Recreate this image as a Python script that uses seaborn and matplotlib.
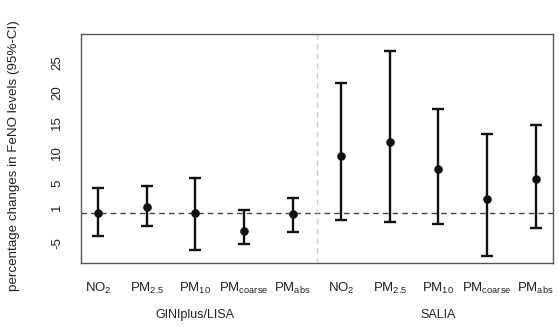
import matplotlib
matplotlib.use("Agg")
import matplotlib.pyplot as plt
import matplotlib.transforms as mtransforms
import seaborn as sns
import pandas as pd
import numpy as np

# Data
pollutants = ["$\\mathregular{NO_2}$", "$\\mathregular{PM_{2.5}}$", "$\\mathregular{PM_{10}}$",
              "$\\mathregular{PM_{coarse}}$", "$\\mathregular{PM_{abs}}$"]
studies = ["GINIplus/LISA", "SALIA"]
est_gini = [0.0, 0.95, 0.0, -3.0, -0.1]
low_gini = [-3.8, -2.2, -6.2, -5.2, -3.2]
high_gini = [4.1, 4.5, 5.8, 0.55, 2.45]
est_salia = [9.55, 11.9, 7.3, 2.4, 5.6]
low_salia = [-1.2, -1.4, -1.8, -7.2, -2.5]
high_salia = [21.7, 27.05, 17.3, 13.1, 14.7]
yticks = [-5, 1, 5, 10, 15, 20, 25]

df = pd.DataFrame({
    "pos": np.arange(1, 11),
    "label": pollutants * 2,
    "study": [studies[0]] * 5 + [studies[1]] * 5,
    "est": est_gini + est_salia,
    "low": low_gini + low_salia,
    "high": high_gini + high_salia,
})

sns.set_style("white")
plt.rcParams["font.family"] = ["Liberation Sans", "DejaVu Sans"]
plt.rcParams["mathtext.fontset"] = "custom"
plt.rcParams["mathtext.rm"] = "Liberation Sans"

fig = plt.figure(figsize=(5.59, 3.27), dpi=100)
ax = fig.add_axes([80.7 / 559, 1 - 263 / 327, (553 - 80.7) / 559, (263 - 34) / 327])

# reference lines
ax.axhline(0, color="#444444", lw=1.0, ls=(0, (4, 3)), zorder=1)
ax.axvline(5.5, color="#cccccc", lw=1.0, ls=(0, (4, 3)), zorder=1)

# error bars
ax.errorbar(df["pos"], df["est"],
            yerr=[df["est"] - df["low"], df["high"] - df["est"]],
            fmt="none", ecolor="#111111", elinewidth=1.7, capsize=4.5,
            capthick=1.7, zorder=2)
sns.scatterplot(data=df, x="pos", y="est", color="#111111", s=38,
                edgecolor="#111111", linewidth=0, ax=ax, zorder=3, legend=False)

ax.set_xlim(0.64, 10.36)
ax.set_ylim(-8.3, 29.8)
ax.set_xticks(df["pos"])
ax.set_xticklabels(df["label"], fontsize=9.5, color="#222222")
ax.set_yticks(yticks)
ax.set_yticklabels([str(t) for t in yticks], fontsize=9.5, rotation=90,
                   va="center", color="#222222")
ax.tick_params(axis="x", direction="out", length=5, width=1, color="#444444", pad=8)
ax.tick_params(axis="y", direction="out", length=6, width=1, color="#444444", pad=6.5)
ax.set_xlabel("")
ax.set_ylabel("percentage changes in FeNO levels (95%-CI)", fontsize=9.6, color="#222222")
ax.yaxis.set_label_coords(-0.128, 0.47)

for sp in ax.spines.values():
    sp.set_visible(True)
    sp.set_color("#555555")
    sp.set_linewidth(1.0)

trans = mtransforms.blended_transform_factory(ax.transData, ax.transAxes)
for i, s in enumerate(studies):
    center = df.loc[df["study"] == s, "pos"].mean()
    ax.text(center, -0.227, s, transform=trans, ha="center", va="center",
            fontsize=9, color="#222222")

fig.savefig("out.png", dpi=100)
